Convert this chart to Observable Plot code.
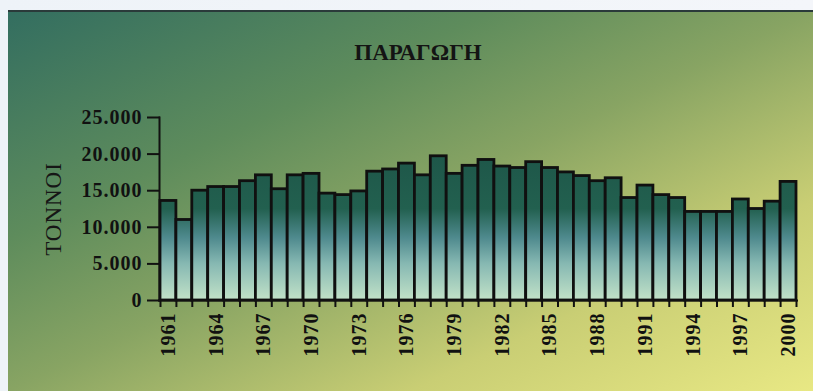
<!DOCTYPE html>
<html>
<head>
<meta charset="utf-8">
<script src="https://cdn.jsdelivr.net/npm/d3@7"></script>
<script src="https://cdn.jsdelivr.net/npm/@observablehq/plot@0.6"></script>
<style>
  html, body { margin: 0; padding: 0; }
  body { width: 813px; height: 391px; overflow: hidden;
         background: linear-gradient(to right, #eef3f8, #f4f6fa); position: relative; }
  #panel { position: absolute; left: 8px; top: 10px; width: 805px; height: 381px;
           border-top: 2px solid #2a3a3a; box-sizing: border-box;
           background: linear-gradient(to bottom right, #336e60 0%, #5e8c5c 30%, #88a463 50%, #c9ce74 75%, #e8e884 100%); }
  #title { height: 68px; line-height: 82px; text-align: center; padding-left: 15px;
           font-family: "Liberation Serif", serif; font-weight: bold; font-size: 23px; color: #141414; }
  #chart svg { display: block; }
</style>
</head>
<body>
<div id="panel">
  <div id="title">ΠΑΡΑΓΩΓΗ</div>
  <div id="chart"></div>
</div>
<script>
const years = [1961, 1962, 1963, 1964, 1965, 1966, 1967, 1968, 1969, 1970,
               1971, 1972, 1973, 1974, 1975, 1976, 1977, 1978, 1979, 1980,
               1981, 1982, 1983, 1984, 1985, 1986, 1987, 1988, 1989, 1990,
               1991, 1992, 1993, 1994, 1995, 1996, 1997, 1998, 1999, 2000];
const production = [13600, 11000, 15000, 15500, 15500, 16300, 17100, 15200, 17100, 17300,
                    14600, 14400, 14900, 17600, 17900, 18700, 17100, 19700, 17300, 18400,
                    19200, 18300, 18100, 18900, 18100, 17500, 17000, 16300, 16700, 14000,
                    15700, 14400, 14000, 12100, 12100, 12100, 13800, 12500, 13500, 16200];
const labelYears = [1961, 1964, 1967, 1970, 1973, 1976, 1979, 1982, 1985, 1988, 1991, 1994, 1997, 2000];
const yTicks = [0, 5000, 10000, 15000, 20000, 25000];
const yTickLabels = ["0", "5.000", "10.000", "15.000", "20.000", "25.000"];
const yLabel = "ΤΟΝΝΟΙ";

const data = years.map((year, i) => ({year, value: production[i]}));

const W = 805, H = 313, mL = 152, mR = 17, mT = 37, mB = 93;
const bw = (W - mL - mR) / years.length;
const font = "'Liberation Serif', 'Times New Roman', serif";

const plot = Plot.plot({
  width: W, height: H,
  marginLeft: mL, marginRight: mR, marginTop: mT, marginBottom: mB,
  style: {background: "transparent", fontFamily: font, fontWeight: "bold", fontSize: "20px", color: "#111", overflow: "visible"},
  x: {type: "band", domain: years, paddingInner: 0, paddingOuter: 0, axis: null},
  y: {domain: [0, 25000], axis: null},
  marks: [
    Plot.barY(data, {x: "year", y: "value", fill: "url(#barGrad)", stroke: "#101010", strokeWidth: 2.8}),
    Plot.axisY({ticks: yTicks, tickSize: 13, tickPadding: 5, tickFormat: d => yTickLabels[yTicks.indexOf(d)],
                label: null, fontSize: 20, fontWeight: "bold", fontFamily: font, stroke: "#111", strokeWidth: 2, fill: "#111"}),
    Plot.axisX({ticks: years, tickSize: 7, tickFormat: () => "", label: null, dx: -bw / 2, stroke: "#111", strokeWidth: 2}),
    Plot.axisX({ticks: [2000], tickSize: 7, tickFormat: () => "", label: null, dx: bw / 2, stroke: "#111", strokeWidth: 2}),
    Plot.axisX({ticks: labelYears, tickSize: 0, tickPadding: 12, tickRotate: -90, tickFormat: d => String(d), label: null,
                fontSize: 20, fontWeight: "bold", fontFamily: font, fill: "#111"}),
    Plot.ruleY([0], {stroke: "#111", strokeWidth: 2, insetLeft: -2, insetRight: -2}),
    Plot.frame({anchor: "left", stroke: "#111", strokeWidth: 2, dx: -1}),
    Plot.text([yLabel], {frameAnchor: "left", y: [12500], text: d => d, rotate: -90, dx: -107, textAnchor: "middle",
                         fontSize: 23, fontWeight: "normal", fontFamily: font, fill: "#161616"})
  ]
});

const svg = d3.select(plot);
const defs = svg.insert("defs", ":first-child");
const g = defs.append("linearGradient").attr("id", "barGrad")
  .attr("gradientUnits", "userSpaceOnUse").attr("x1", 0).attr("x2", 0).attr("y1", mT).attr("y2", H - mB);
[[0, "#1b5045"], [0.5, "#22604f"], [0.66, "#4f8a8e"], [0.8, "#86b8b2"], [1, "#c2e2c8"]].forEach(([o, c]) =>
  g.append("stop").attr("offset", o).attr("stop-color", c));
svg.selectAll("text").style("letter-spacing", "1px");
document.getElementById("chart").appendChild(plot);
</script>
</body>
</html>
